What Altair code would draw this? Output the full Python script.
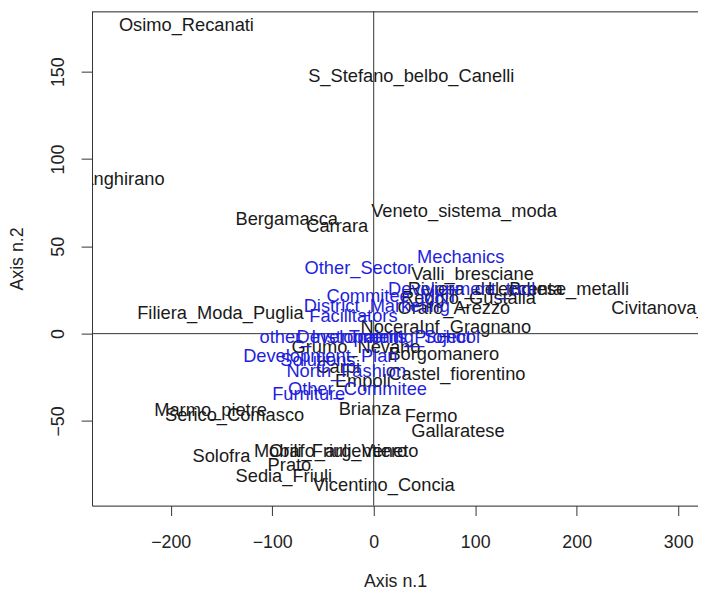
import altair as alt
import pandas as pd

# Black labels: districts
site_labels = [
    "Osimo_Recanati", "S_Stefano_belbo_Canelli", "Langhirano", "Bergamasca", "Carrara",
    "Veneto_sistema_moda", "Valli_bresciane", "Lecchese_metalli", "Riviera_del_Brenta",
    "Reggio_Gustalla", "Orafo_Arezzo", "Civitanova_Marche", "NoceraInf_Gragnano",
    "Filiera_Moda_Puglia", "Grumo_Nevano", "Borgomanero", "Carpi", "Castel_fiorentino",
    "Empoli", "Brianza", "Fermo", "Gallaratese", "Marmo_pietre", "Serico_Comasco",
    "Solofra", "Mobili_Friuli_Veneto", "Orafo_argentiero", "Prato", "Sedia_Friuli",
    "Vicentino_Concia",
]
site_x = [
    -184.5, 37, -251, -85.7, -36,
    89, 97.4, 182, 110,
    93.4, 79, 311, 71,
    -151, -17.5, 69, -35, 82,
    -10.7, -4, 56.5, 83, -160.7, -137,
    -150, -37, -35, -83, -88.6,
    10,
]
site_y = [
    176.7, 147.8, 88.3, 65.7, 61.7,
    70.2, 34, 25.5, 25.5,
    20.5, 14.7, 14.7, 4,
    11.9, -7.4, -11.9, -19, -23,
    -27, -43, -47, -56, -44, -46.4,
    -70, -67, -67, -75, -81.7,
    -87,
]

# Blue labels: categories
cat_labels = [
    "Mechanics", "Other_Sector", "Development_tool", "Commitee_MKT", "District_Marketing",
    "Facilitators", "other_Instruments", "Development_Project", "Training_School",
    "Development_Plan", "Solutions", "North_Fashion", "Other_Commitee", "Furniture",
]
cat_x = [
    85.7, -14.6, 86.7, 18.5, 3,
    -20, -40, 10, 40,
    -52.6, -55, -27, -16, -64,
]
cat_y = [
    43.6, 37.4, 25.5, 21.5, 15.9,
    10.3, -2, -2, -2,
    -13, -15, -21.5, -31.7, -34.5,
]

x_ticks = [-200, -100, 0, 100, 200, 300]
y_ticks = [-50, 0, 50, 100, 150]

sites = pd.DataFrame({"label": site_labels, "x": site_x, "y": site_y})
cats = pd.DataFrame({"label": cat_labels, "x": cat_x, "y": cat_y})

FONT = "Liberation Sans"
xscale = alt.Scale(domain=[-277.5, 319.5], nice=False, zero=False)
yscale = alt.Scale(domain=[-98.5, 184.6], nice=False, zero=False)

xaxis = alt.Axis(values=x_ticks, title="Axis n.1", grid=False, domain=True,
                 domainColor="#333", domainWidth=1,
                 tickSize=10, tickColor="#333", labelPadding=18, labelFontSize=18,
                 titleFontSize=18, titleFontWeight="normal", titlePadding=22,
                 labelFont=FONT, titleFont=FONT, labelColor="#222", titleColor="#222")
yaxis = alt.Axis(values=y_ticks, title="Axis n.2", grid=False, domain=True,
                 domainColor="#333", domainWidth=1,
                 tickSize=11, tickColor="#333", labelPadding=14, labelFontSize=18,
                 labelAngle=270, labelAlign="center", labelBaseline="bottom",
                 titleFontSize=18, titleFontWeight="normal", titlePadding=23,
                 labelFont=FONT, titleFont=FONT, labelColor="#222", titleColor="#222")

base_x = alt.X("x:Q", scale=xscale, axis=xaxis)
base_y = alt.Y("y:Q", scale=yscale, axis=yaxis)

site_text = alt.Chart(sites).mark_text(
    font=FONT, fontSize=18.5, color="#1a1a1a", clip=True, align="center", baseline="middle"
).encode(x=base_x, y=base_y, text="label:N")

cat_text = alt.Chart(cats).mark_text(
    font=FONT, fontSize=18.5, color="#1f1fdd", clip=True, align="center", baseline="middle"
).encode(x=alt.X("x:Q", scale=xscale), y=alt.Y("y:Q", scale=yscale), text="label:N")

vline = alt.Chart(pd.DataFrame({"x": [0]})).mark_rule(color="#333", strokeWidth=1).encode(
    x=alt.X("x:Q", scale=xscale))
hline = alt.Chart(pd.DataFrame({"y": [0]})).mark_rule(color="#333", strokeWidth=1).encode(
    y=alt.Y("y:Q", scale=yscale))

# top edge of the frame (right edge is outside the picture in the reference)
top_frame = alt.Chart(pd.DataFrame({"k": [0]})).mark_rule(color="#333", strokeWidth=1).encode(
    y=alt.value(0.5))

chart = alt.layer(site_text, vline, hline, cat_text, top_frame).properties(
    width=613, height=500,
    autosize=alt.AutoSizeParams(type="none"),
    padding={"left": 85, "top": 0, "right": 0, "bottom": 86},
).configure_view(strokeWidth=0).configure(background="white")

chart.save("out.html", embed_options={"renderer": "svg", "actions": False})
